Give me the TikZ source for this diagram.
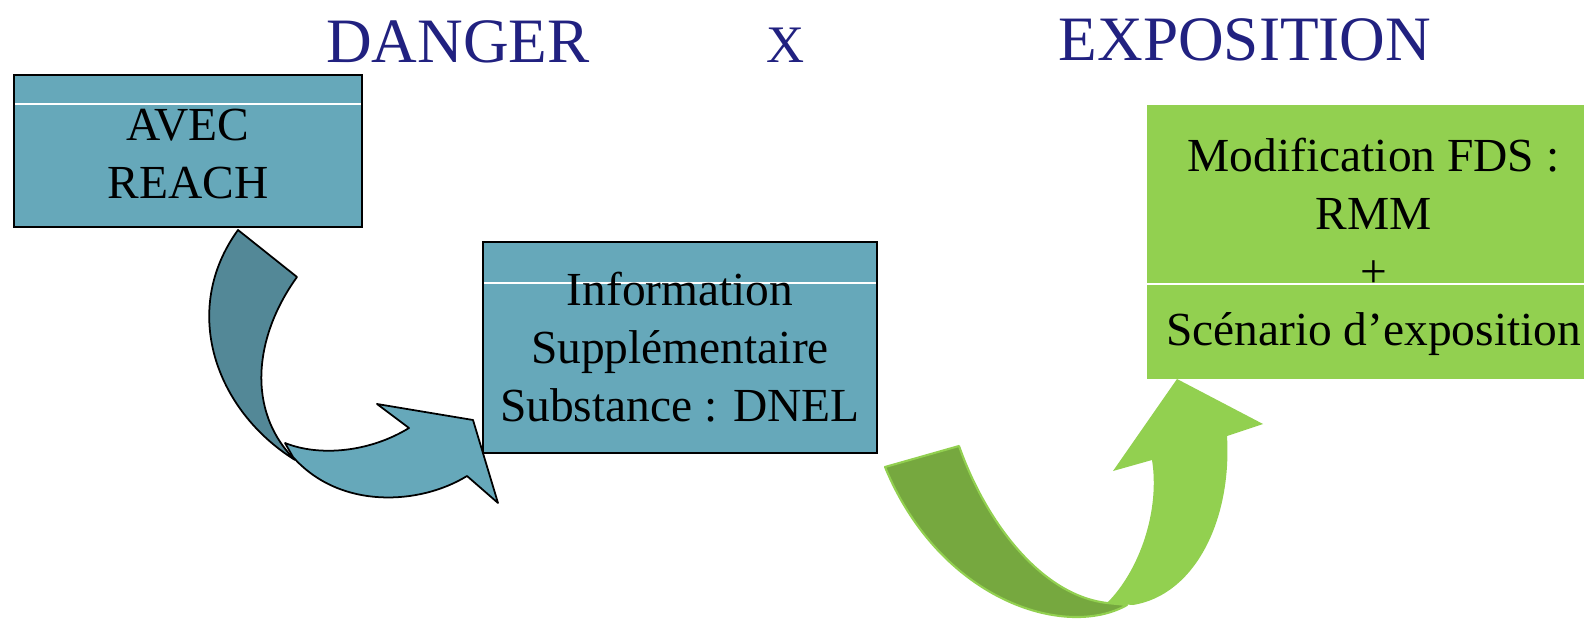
\documentclass[tikz,border=0pt]{standalone}
\usepackage{fontspec}
\setmainfont{Liberation Serif}
\usetikzlibrary{positioning}

\definecolor{boxblue}{RGB}{102,168,186}
\definecolor{shadeblue}{RGB}{83,136,151}
\definecolor{titleblue}{RGB}{33,33,128}
\definecolor{leafgreen}{RGB}{146,208,80}
\definecolor{shadegreen}{RGB}{118,168,63}

\begin{document}
\begin{tikzpicture}[
    x=0.02cm, y=-0.02cm,
    title/.style = {text=titleblue, font=\fontsize{36}{43}\selectfont, inner sep=0pt, anchor=base},
    box/.style = {align=center, font=\fontsize{27}{33}\selectfont, inner sep=0pt},
    bluebox/.style = {box, draw=black, line width=1pt, fill=boxblue},
    greenbox/.style = {box, fill=leafgreen},
    rule/.style = {path picture={\draw[white, line width=0.7pt]
        ([yshift=-#1]path picture bounding box.north west) --
        ([yshift=-#1]path picture bounding box.north east);}},
    ribbon/.style = {draw=black, line width=1pt, line join=round}
  ]
  \useasboundingbox (0,0) rectangle (1584,624);
  \clip (0,0) rectangle (1584,624);

  \node[title] (danger) at (458,63) {DANGER};
  \node[title, font=\fontsize{30}{36}\selectfont] (times) at (786,63) {X};
  \node[title] (exposition) at (1245,61) {EXPOSITION};

  % blue curved arrow
  \filldraw[ribbon, fill=shadeblue] (238,230) -- (297,277)
    .. controls (255,335) and (245,410) .. (295,460)
    .. controls (215,410) and (180,310) .. (238,230) -- cycle;
  \filldraw[ribbon, fill=boxblue] (285,443)
    .. controls (320,457) and (370,452) .. (409,428)
    -- (377,404) -- (473,420) -- (498,503) -- (467,476)
    .. controls (420,505) and (340,510) .. (293,457) -- cycle;

  % green curved arrow
  \filldraw[draw=leafgreen, line width=1.2pt, line join=round, fill=shadegreen] (885,467) -- (959,446)
    .. controls (985,520) and (1040,595) .. (1107,603) -- (1127,605)
    .. controls (1065,640) and (940,600) .. (885,467) -- cycle;
  \fill[leafgreen] (1107,603)
    .. controls (1140,570) and (1160,510) .. (1152,460)
    -- (1113,471) -- (1177,379) -- (1263,424) -- (1227,436)
    .. controls (1232,520) and (1195,595) .. (1133,605) -- cycle;

  \node[bluebox, rule=0.58cm, minimum width=6.96cm, minimum height=3.04cm] (reach) at (188,151)
    {\rule{0pt}{21pt}AVEC\\REACH};
  \node[bluebox, rule=0.82cm, minimum width=7.88cm, minimum height=4.22cm] (dnel) at (680,347.5)
    {Information\\Supplémentaire\\Substance : DNEL};
  \node[greenbox, rule=3.58cm, minimum width=9.06cm, minimum height=5.48cm] (fds) at (1373.5,242)
    {\rule{0pt}{25pt}Modification FDS :\\RMM\\+\\Scénario d’exposition};
\end{tikzpicture}
\end{document}
